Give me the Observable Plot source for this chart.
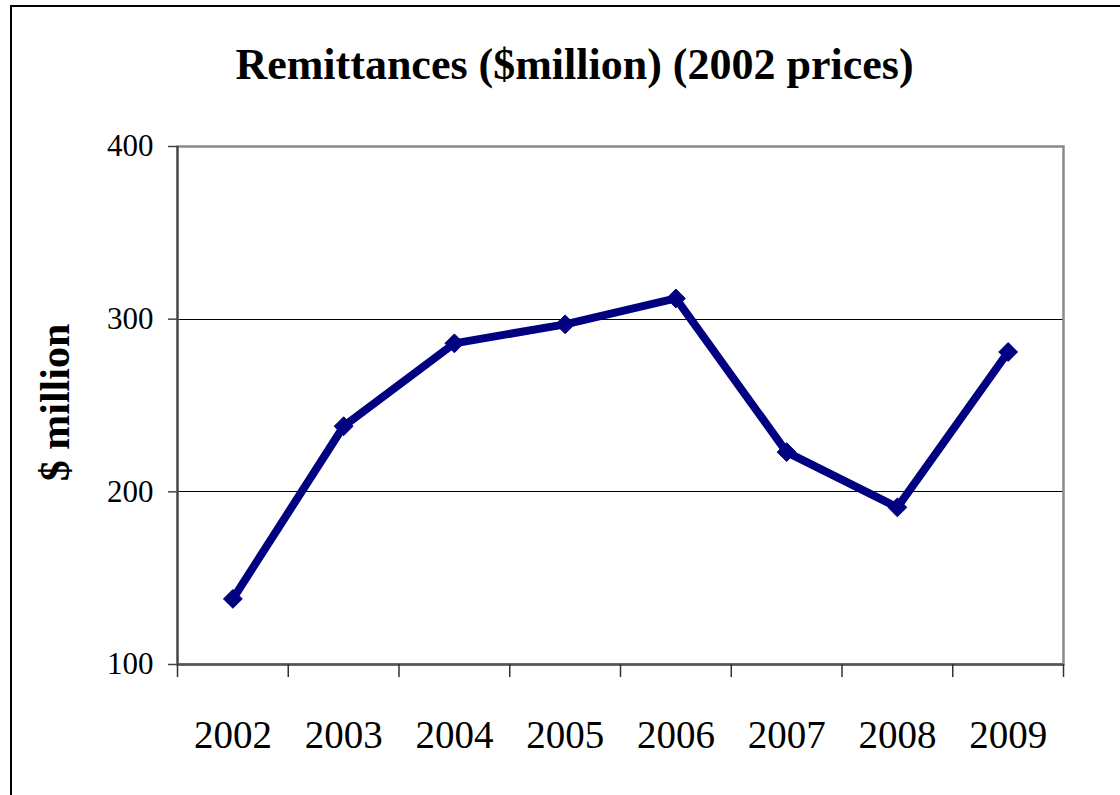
<!DOCTYPE html>
<html>
<head>
<meta charset="utf-8">
<script src="https://cdn.jsdelivr.net/npm/d3@7"></script>
<script src="https://cdn.jsdelivr.net/npm/@observablehq/plot@0.6"></script>
<style>
  html, body { margin: 0; padding: 0; background: #fff; }
  #wrap { position: relative; width: 1120px; height: 795px; overflow: hidden; }
  #border { position: absolute; left: 10px; top: 5px; width: 1200px; height: 900px;
            border-left: 2px solid #000; border-top: 2px solid #000; pointer-events: none; }
</style>
</head>
<body>
<div id="wrap"><div id="border"></div></div>
<script>
const years = [2002, 2003, 2004, 2005, 2006, 2007, 2008, 2009];
const remittances = [138, 238, 286, 297, 312, 223, 191, 281];
const yTicks = [100, 200, 300, 400];
const gridValues = [200, 300];
const titleText = "Remittances ($million) (2002 prices)";
const yLabel = "$ million";

const data = years.map((y, i) => ({year: y, value: remittances[i]}));
const bounds = years.map(y => y - 0.5).concat([years[years.length - 1] + 0.5]);
const navy = "#000080";
const serif = "'Liberation Serif', 'Times New Roman', serif";

const chart = Plot.plot({
  width: 1120,
  height: 795,
  marginLeft: 177,
  marginRight: 57,
  marginTop: 146,
  marginBottom: 131,
  style: {fontFamily: serif, background: "transparent", overflow: "visible"},
  x: {type: "linear", domain: [bounds[0], bounds[bounds.length - 1]]},
  y: {type: "linear", domain: [100, 400]},
  marks: [
    Plot.ruleY(gridValues, {stroke: "#000", strokeWidth: 1, shapeRendering: "crispEdges"}),
    Plot.frame({stroke: "#8a8a8a", strokeWidth: 2.5}),
    Plot.ruleX([bounds[0]], {stroke: "#444", strokeWidth: 2}),
    Plot.ruleY([100], {stroke: "#555", strokeWidth: 2.5}),
    Plot.ruleX(bounds, {x: d => d, y1: 100, y2: 100, insetBottom: -13, stroke: "#333", strokeWidth: 1.5}),
    Plot.axisY({ticks: yTicks, tickSize: 9, tickPadding: 15, fontSize: 31, label: null, stroke: "#444", strokeWidth: 1.5, tickFormat: d => String(d)}),
    Plot.axisX({ticks: years, tickSize: 0, tickPadding: 56, fontSize: 39, label: null, tickFormat: d => String(d)}),
    Plot.line(data, {x: "year", y: "value", stroke: navy, strokeWidth: 8, strokeLinejoin: "round"}),
    Plot.dot(data, {x: "year", y: "value", symbol: "diamond2", r: 8.5, fill: navy, stroke: navy, strokeWidth: 1}),
    Plot.text([titleText], {frameAnchor: "top", dy: -82, dx: -46, fontSize: 44, fontWeight: "bold", fill: "#000", lineAnchor: "middle"}),
    Plot.text([yLabel], {frameAnchor: "left", textAnchor: "middle", dx: -122, dy: -3, rotate: -90, fontSize: 42, fontWeight: "bold", fill: "#000", lineAnchor: "middle"})
  ]
});
document.getElementById("wrap").appendChild(chart);
chart.style.position = "absolute";
chart.style.left = "0px";
chart.style.top = "0px";
</script>
</body>
</html>
